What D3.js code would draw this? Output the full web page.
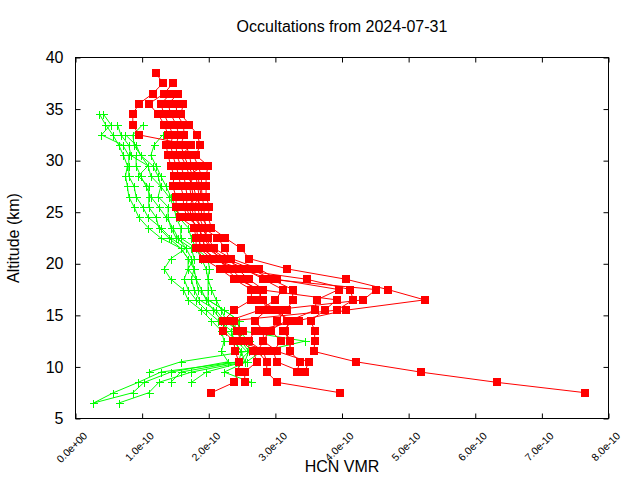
<!DOCTYPE html>
<html><head><meta charset="utf-8">
<script src="https://cdn.jsdelivr.net/npm/d3@7"></script>
<style>
body{margin:0;background:#fff;}
svg{display:block;}
text{font-family:"Liberation Sans",Arial,sans-serif;fill:#000;}
</style>
</head><body>
<svg id="chart" width="640" height="480"></svg>
<script>
const title = "Occultations from 2024-07-31";
const xLabel = "HCN VMR";
const yLabel = "Altitude (km)";
const xTickValues = [0, 1e-10, 2e-10, 3e-10, 4e-10, 5e-10, 6e-10, 7e-10, 8e-10];
const yTickValues = [5, 10, 15, 20, 25, 30, 35, 40];
const VMR_UNIT = 1e-10; // profile values below are in units of 1e-10
const _ = null;

// altitude levels (km) shared by all profiles
const altitudes = [38.5,37.5,36.5,35.5,34.5,33.5,32.5,31.5,30.5,29.5,
  28.5,27.5,26.5,25.5,24.5,23.5,22.5,21.5,20.5,19.5,
  18.5,17.5,16.5,15.5,14.5,13.5,12.5,11.5,10.5,9.5,
  8.5,7.5,6.5];

// red (square) profiles
const redProfiles = [
  [1.21,1.31,1.16,0.95,0.86,0.86,0.95,1.74,1.58,1.66, 1.71,1.74,1.77,1.71,1.74,1.81,1.84,1.89,2.11,2.34, 2.49,2.72,2.82,2.87,2.69,2.82,2.82,2.73,2.87,2.87, 3.03,3.97,_],
  [_,1.46,1.33,1.10,1.24,1.33,1.39,1.36,1.39,1.43, 1.48,1.46,1.51,1.51,1.57,1.78,1.81,1.81,1.92,2.17, 2.38,2.64,2.64,2.38,2.22,2.22,2.37,2.40,2.45,2.45, 2.38,2.04,_],
  [_,_,1.43,1.28,1.33,1.40,1.46,1.43,1.46,1.51, 1.55,1.58,1.62,1.62,1.68,1.86,1.89,1.96,2.22,2.54, 2.82,3.11,3.00,2.76,2.31,2.42,2.49,2.67,2.72,2.54, 2.54,_,_],
  [_,_,1.54,1.39,1.43,1.51,1.55,1.51,1.52,1.58, 1.63,1.65,1.68,1.66,1.72,1.83,1.93,2.02,2.26,2.64, 2.94,3.26,3.26,3.17,3.02,2.94,3.08,2.97,3.02,3.40, _,_,_],
  [_,_,_,1.51,1.52,1.62,1.63,1.58,1.63,1.69, 1.77,1.71,1.74,1.78,1.81,1.89,1.99,2.08,2.34,2.76, 3.02,3.95,3.62,3.59,3.22,3.15,3.22,3.22,3.37,3.32, _,_,_],
  [_,_,_,1.62,1.58,1.71,1.83,1.87,1.81,1.99, 1.96,1.96,1.96,2.01,1.99,2.04,2.25,2.48,2.61,3.18, 4.06,4.69,5.24,4.06,3.35,2.69,2.60,2.82,2.87,_, _,_,_],
  [_,_,_,_,_,_,_,1.66,1.71,1.74, 1.81,1.83,1.86,1.84,1.86,1.92,2.13,2.25,2.31,2.43, 2.60,2.82,2.73,3.05,3.17,2.91,2.82,3.03,3.50,3.44, _,_,_],
  [_,_,_,_,_,_,_,_,1.77,1.84, 1.89,1.89,1.90,1.93,1.93,1.96,1.96,2.04,2.16,2.26, 2.43,2.76,3.92,3.74,3.53,3.59,3.59,3.58,4.21,5.18, 6.33,7.65,_],
  [_,_,_,_,_,_,_,_,_,1.92, 1.68,1.77,1.81,1.89,1.89,1.99,1.92,1.93,2.07,2.38, 3.47,4.12,4.17,3.92,2.38,2.52,2.43,2.91,_,_, _,_,_],
  [_,_,_,_,_,_,_,_,_,_, 1.84,1.86,1.89,1.74,1.78,1.89,1.87,1.86,2.04,2.49, 2.91,4.51,4.32,2.94,3.25,3.12,3.22,3.22,_,_, _,_,_]
];

// green (cross) profiles
const greenProfiles = [
  [_,_,_,_,0.36,0.45,0.56,0.65,0.72,0.78, 0.75,0.78,0.80,0.88,0.95,1.09,1.28,1.58,1.69,1.69, 1.63,1.69,1.81,1.96,2.14,2.34,2.38,2.49,2.45,1.28, 0.94,0.57,0.27],
  [_,_,_,_,0.42,0.53,0.39,0.71,0.80,0.80, 0.80,0.88,0.91,1.01,1.09,1.28,1.43,1.66,1.43,1.33, 1.43,1.62,1.69,1.89,2.04,2.19,2.23,2.19,2.29,1.43, 1.03,0.86,0.27],
  [_,_,_,_,_,0.63,0.68,0.80,0.83,1.09, 0.94,1.10,1.10,1.10,1.21,1.25,1.40,1.58,1.69,1.78, 1.74,1.78,1.86,2.11,2.23,2.45,2.49,2.60,2.54,1.74, 1.25,1.10,0.65],
  [_,_,_,_,_,1.01,0.86,0.88,0.98,1.16, 1.24,1.28,1.24,1.39,1.39,1.43,1.51,1.74,1.78,1.69, 1.81,1.84,1.99,2.23,2.45,2.45,2.60,2.60,2.45,1.58, 1.43,_,_],
  [_,_,_,_,_,_,0.75,0.91,0.98,1.09, 1.13,1.28,1.40,1.48,1.51,1.58,1.58,1.81,1.99,2.01, 1.99,1.99,1.99,2.23,2.45,2.34,2.38,2.49,2.54,1.96, 1.74,_,_],
  [_,_,_,_,_,_,1.31,1.18,1.13,1.21, 1.28,1.36,1.43,1.51,1.55,1.69,1.74,1.81,1.89,1.96, 1.99,2.04,2.11,2.19,2.26,2.49,3.44,2.79,2.57,2.23, 2.64,_,_],
  [_,_,_,_,_,_,_,_,0.91,0.91, 0.98,1.06,1.13,1.25,1.36,1.46,1.54,1.66,1.74,1.78, 1.81,1.89,1.96,2.07,2.19,2.26,2.42,2.57,1.58,1.10, _,_,_]
];

const redColor = "#ff0000";
const greenColor = "#00ff00";

const svg = d3.select("#chart");
const W = 640, H = 480;
const L = 75.5, R = 608.5, T = 57.5, B = 418.5;

const x = d3.scaleLinear().domain([0, 8e-10]).range([L, R]);
const y = d3.scaleLinear().domain([5, 40]).range([B, T]);

svg.append("rect").attr("width", W).attr("height", H).attr("fill", "#fff");

function fmt(d) {
  if (d === 0) return "0.0e+00";
  const e = Math.floor(Math.log10(Math.abs(d)) + 1e-9);
  const m = d / Math.pow(10, e);
  return m.toFixed(1) + "e" + (e < 0 ? "-" : "+") + String(Math.abs(e)).padStart(2, "0");
}

// axes with inward ticks on all sides
const TK = 5;
const gB = svg.append("g").attr("transform", `translate(0,${B})`)
  .call(d3.axisBottom(x).tickValues(xTickValues).tickSizeInner(-TK).tickSizeOuter(0).tickFormat(fmt));
gB.selectAll("text")
  .attr("x", 0).attr("y", 0).attr("dy", 0)
  .attr("transform", "translate(12,18) rotate(-45)")
  .style("text-anchor", "end")
  .style("font-size", "10.5px")
  .style("font-family", "'Liberation Sans',Arial,sans-serif");

const gT = svg.append("g").attr("transform", `translate(0,${T})`)
  .call(d3.axisTop(x).tickValues(xTickValues).tickSizeInner(-TK).tickSizeOuter(0).tickFormat(""));

const gL = svg.append("g").attr("transform", `translate(${L},0)`)
  .call(d3.axisLeft(y).tickValues(yTickValues).tickSizeInner(-TK).tickSizeOuter(0));
gL.selectAll("text")
  .attr("x", -12)
  .style("font-size", "16px")
  .style("font-family", "'Liberation Sans',Arial,sans-serif");

const gR = svg.append("g").attr("transform", `translate(${R},0)`)
  .call(d3.axisRight(y).tickValues(yTickValues).tickSizeInner(-TK).tickSizeOuter(0).tickFormat(""));

[gB, gT, gL, gR].forEach(g => {
  g.select(".domain").remove();
  g.selectAll("line").attr("stroke", "#000").attr("stroke-width", 1);
});

// data
function toPoints(vals) {
  const pts = [];
  vals.forEach((v, i) => { if (v !== null) pts.push({ alt: altitudes[i], vmr: v * VMR_UNIT }); });
  return pts;
}

const line = d3.line().x(d => x(d.vmr)).y(d => y(d.alt));
const plot = svg.append("g");

// green profiles
greenProfiles.forEach(p => {
  const pts = toPoints(p);
  plot.append("path").datum(pts).attr("d", line)
    .attr("fill", "none").attr("stroke", greenColor).attr("stroke-width", 1);
  const s = 4;
  plot.append("g").selectAll("path").data(pts).join("path")
    .attr("d", d => {
      const cx = Math.round(x(d.vmr)) + 0.5, cy = Math.round(y(d.alt)) + 0.5;
      return `M${cx - s},${cy}H${cx + s}M${cx},${cy - s}V${cy + s}`;
    })
    .attr("stroke", greenColor).attr("stroke-width", 1).attr("fill", "none")
    .attr("shape-rendering", "crispEdges");
});

// red profiles
redProfiles.forEach(p => {
  const pts = toPoints(p);
  plot.append("path").datum(pts).attr("d", line)
    .attr("fill", "none").attr("stroke", redColor).attr("stroke-width", 1);
  const s = 8;
  plot.append("g").selectAll("rect").data(pts).join("rect")
    .attr("x", d => Math.round(x(d.vmr) - s / 2)).attr("y", d => Math.round(y(d.alt) - s / 2))
    .attr("width", s).attr("height", s).attr("fill", redColor)
    .attr("shape-rendering", "crispEdges");
});

// border
svg.append("rect").attr("x", L).attr("y", T).attr("width", R - L).attr("height", B - T)
  .attr("fill", "none").attr("stroke", "#000").attr("stroke-width", 1);

// texts
svg.append("text").attr("x", (L + R) / 2).attr("y", 32).attr("text-anchor", "middle")
  .style("font-size", "16px").text(title);
svg.append("text").attr("x", (L + R) / 2).attr("y", 472).attr("text-anchor", "middle")
  .style("font-size", "16px").text(xLabel);
svg.append("text").attr("transform", `translate(19,${(T + B) / 2}) rotate(-90)`)
  .attr("text-anchor", "middle").style("font-size", "16px").text(yLabel);
</script>
</body></html>
